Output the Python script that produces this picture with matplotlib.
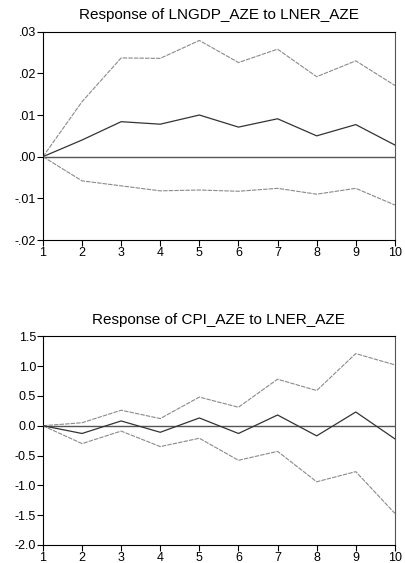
import matplotlib
matplotlib.use("Agg")
import matplotlib.pyplot as plt
from matplotlib.ticker import FuncFormatter

periods = [1, 2, 3, 4, 5, 6, 7, 8, 9, 10]

gdp_title = "Response of LNGDP_AZE to LNER_AZE"
gdp_resp = [0.0, 0.0040, 0.0084, 0.0078, 0.0100, 0.0071, 0.0091, 0.0050, 0.0077, 0.0028]
gdp_upper = [0.0, 0.0132, 0.0237, 0.0236, 0.0279, 0.0226, 0.0258, 0.0192, 0.0230, 0.0171]
gdp_lower = [0.0, -0.0058, -0.0070, -0.0082, -0.0080, -0.0083, -0.0076, -0.0090, -0.0076, -0.0116]
gdp_yticks = [-0.02, -0.01, 0.0, 0.01, 0.02, 0.03]

cpi_title = "Response of CPI_AZE to LNER_AZE"
cpi_resp = [0.0, -0.13, 0.08, -0.11, 0.13, -0.13, 0.18, -0.17, 0.23, -0.22]
cpi_upper = [0.0, 0.05, 0.26, 0.12, 0.48, 0.31, 0.78, 0.59, 1.21, 1.02]
cpi_lower = [0.0, -0.30, -0.09, -0.35, -0.21, -0.58, -0.43, -0.94, -0.77, -1.47]
cpi_yticks = [-2.0, -1.5, -1.0, -0.5, 0.0, 0.5, 1.0, 1.5]

plt.rcParams['font.family'] = ['Liberation Sans', 'DejaVu Sans']

fig = plt.figure(figsize=(4.05, 5.63), dpi=100)
ax1 = fig.add_axes([0.106, 0.5737, 0.869, 0.37])
ax2 = fig.add_axes([0.106, 0.032, 0.869, 0.3707])


def fmt_gdp(v, pos):
    s = "%.2f" % v
    if s.startswith("0."):
        s = s[1:]
    elif s.startswith("-0."):
        s = "-" + s[2:]
    return s


def draw(ax, resp, up, lo, yticks, title, fmt):
    ax.axhline(0, color="#555555", lw=1.0, zorder=1)
    ax.plot(periods, up, color="#8a8a8a", lw=0.8, ls=(0, (4, 1)), zorder=2)
    ax.plot(periods, lo, color="#8a8a8a", lw=0.8, ls=(0, (4, 1)), zorder=2)
    ax.plot(periods, resp, color="#333333", lw=0.9, zorder=3)
    ax.set_xlim(1, 10)
    ax.set_ylim(yticks[0], yticks[-1])
    ax.set_xticks(periods)
    ax.set_yticks(yticks)
    ax.yaxis.set_major_formatter(FuncFormatter(fmt))
    ax.tick_params(axis="both", direction="out", length=4, width=0.8,
                   labelsize=9, pad=1, colors="black")
    for sp in ax.spines.values():
        sp.set_linewidth(0.8)
    ax.spines["top"].set_color("black")
    ax.spines["right"].set_color("#555555")
    ax.set_title(title, fontsize=11, pad=9)


draw(ax1, gdp_resp, gdp_upper, gdp_lower, gdp_yticks, gdp_title, fmt_gdp)
draw(ax2, cpi_resp, cpi_upper, cpi_lower, cpi_yticks, cpi_title,
     lambda v, p: "%.1f" % v)

fig.savefig("out.png", dpi=100)
